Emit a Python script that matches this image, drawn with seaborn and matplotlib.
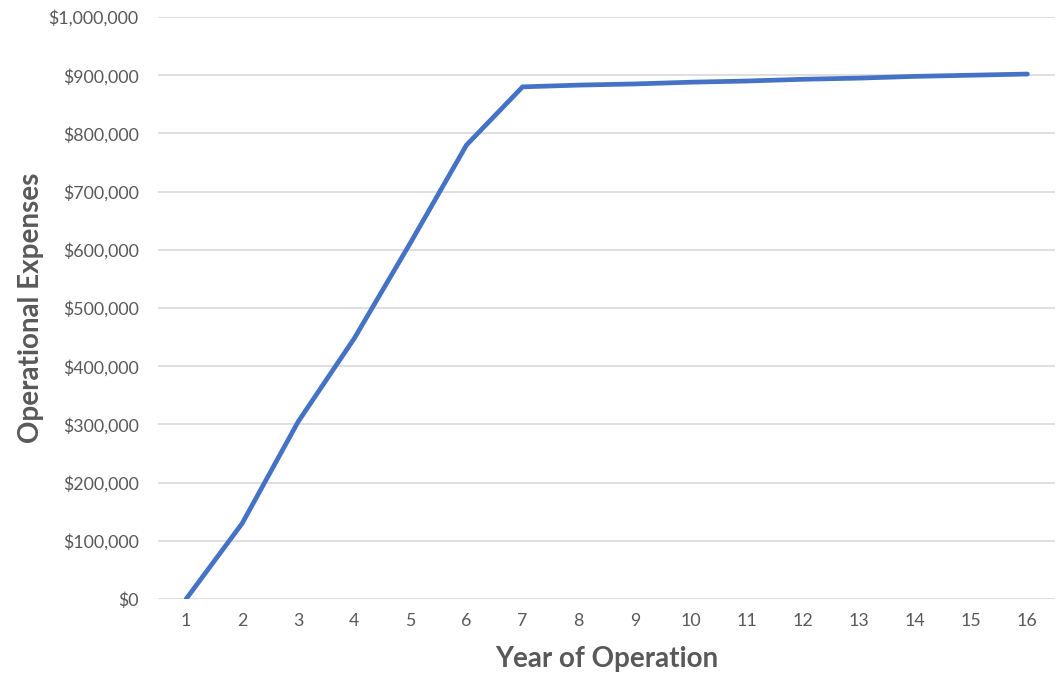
import matplotlib
matplotlib.use("Agg")
import matplotlib.pyplot as plt
import matplotlib.ticker as mticker
import pandas as pd
import seaborn as sns

# values
years = list(range(1, 17))
expenses = [0, 130000, 305000, 448000, 612000, 780000, 880000, 883000,
            885000, 888000, 890000, 893000, 895000, 898000, 900000, 902000]

df = pd.DataFrame({"year": years, "expenses": expenses})

sns.set_theme(style="white")
plt.rcParams["font.family"] = ["Lato", "DejaVu Sans"]

GREY = "#595959"

fig = plt.figure(figsize=(10.57, 6.80), dpi=100)
ax = fig.add_axes([0.1495, 0.119, 0.849, 0.856])

sns.lineplot(data=df, x="year", y="expenses", ax=ax, color="#4472C4",
             linewidth=3.4, solid_capstyle="round")

ax.set_xlim(0.5, 16.5)
ax.set_ylim(0, 1000000)
ax.set_xticks(years)
ax.set_yticks(range(0, 1000001, 100000))
ax.yaxis.set_major_formatter(mticker.FuncFormatter(lambda v, _: f"${v:,.0f}"))
ax.grid(axis="y", color="#D9D9D9", linewidth=1.2)
ax.set_axisbelow(True)
for s in ax.spines.values():
    s.set_visible(False)
ax.tick_params(axis="both", length=0, labelsize=12.8, labelcolor=GREY)
ax.tick_params(axis="x", pad=10)
ax.tick_params(axis="y", pad=14)

ax.set_xlabel("Year of Operation", fontsize=20, fontweight="bold", color=GREY, labelpad=12)
ax.set_ylabel("Operational Expenses", fontsize=20, fontweight="bold", color=GREY, labelpad=3)

fig.savefig("out.png", dpi=100)
